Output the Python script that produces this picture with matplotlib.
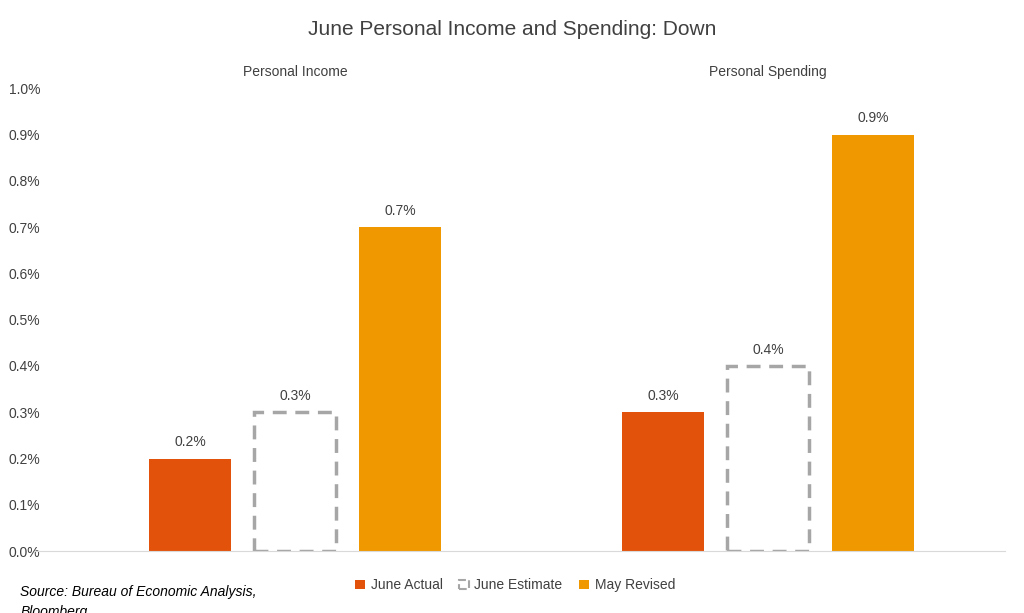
import matplotlib
matplotlib.use("Agg")
import matplotlib.pyplot as plt
import numpy as np
from matplotlib.patches import Patch

categories = ["Personal Income", "Personal Spending"]
june_actual = [0.2, 0.3]
june_estimate = [0.3, 0.4]
may_revised = [0.7, 0.9]
yticks = [0.0, 0.1, 0.2, 0.3, 0.4, 0.5, 0.6, 0.7, 0.8, 0.9, 1.0]

C_ACT = "#E2520A"
C_MAY = "#EF9800"
C_EST = "#A6A6A6"
TXT = "#404040"

plt.rcParams["font.family"] = ["Liberation Sans", "DejaVu Sans"]

fig = plt.figure(figsize=(10.24, 6.13), dpi=100)
ax = fig.add_axes([0.057, 0.101, 0.924, 0.755])

x = np.arange(len(categories))
w = 0.173
step = 0.222
ax.bar(x - step, june_actual, width=w, color=C_ACT)
ax.bar(x, june_estimate, width=w, facecolor="none", edgecolor=C_EST,
       linewidth=2.5, linestyle=(0, (4, 2.5)))
ax.bar(x + step, may_revised, width=w, color=C_MAY)

for off, vals in ((-step, june_actual), (0, june_estimate), (step, may_revised)):
    for xi, v in zip(x, vals):
        ax.text(xi + off, v + 0.02, f"{v:.1f}%", ha="center", va="bottom",
                fontsize=10, color=TXT)

ax.set_xlim(-0.5, 1.5)
ax.set_ylim(0, 1.0)
ax.set_yticks(yticks)
ax.set_yticklabels([f"{t:.1f}%" for t in yticks], fontsize=10, color=TXT)
ax.set_xticks([])
for s in ("top", "right", "left"):
    ax.spines[s].set_visible(False)
ax.spines["bottom"].set_color("#D9D9D9")
ax.spines["bottom"].set_bounds(-0.55, 1.5)
ax.spines["bottom"].set_clip_on(False)
ax.tick_params(axis="y", length=0, pad=13)

for xi, c in zip(x, categories):
    ax.text(xi, 1.035, c, ha="center", va="center", fontsize=10, color=TXT,
            transform=ax.get_xaxis_transform())

fig.text(0.5, 0.952, "June Personal Income and Spending: Down", ha="center",
         va="center", fontsize=15, color=TXT)

handles = [Patch(facecolor=C_ACT), 
           Patch(facecolor="none", edgecolor=C_EST, linestyle="--", linewidth=1.5),
           Patch(facecolor=C_MAY)]
fig.legend(handles, ["June Actual", "June Estimate", "May Revised"],
           loc="center", bbox_to_anchor=(0.503, 0.045), ncol=3, frameon=False,
           fontsize=10, handlelength=0.7, handleheight=0.7, columnspacing=1.2,
           handletextpad=0.4, labelcolor=TXT)

fig.text(0.02, 0.045, "Source: Bureau of Economic Analysis,\nBloomberg", ha="left",
         va="top", fontsize=10, style="italic", color="black", linespacing=1.5)

fig.savefig("out.png", dpi=100)
